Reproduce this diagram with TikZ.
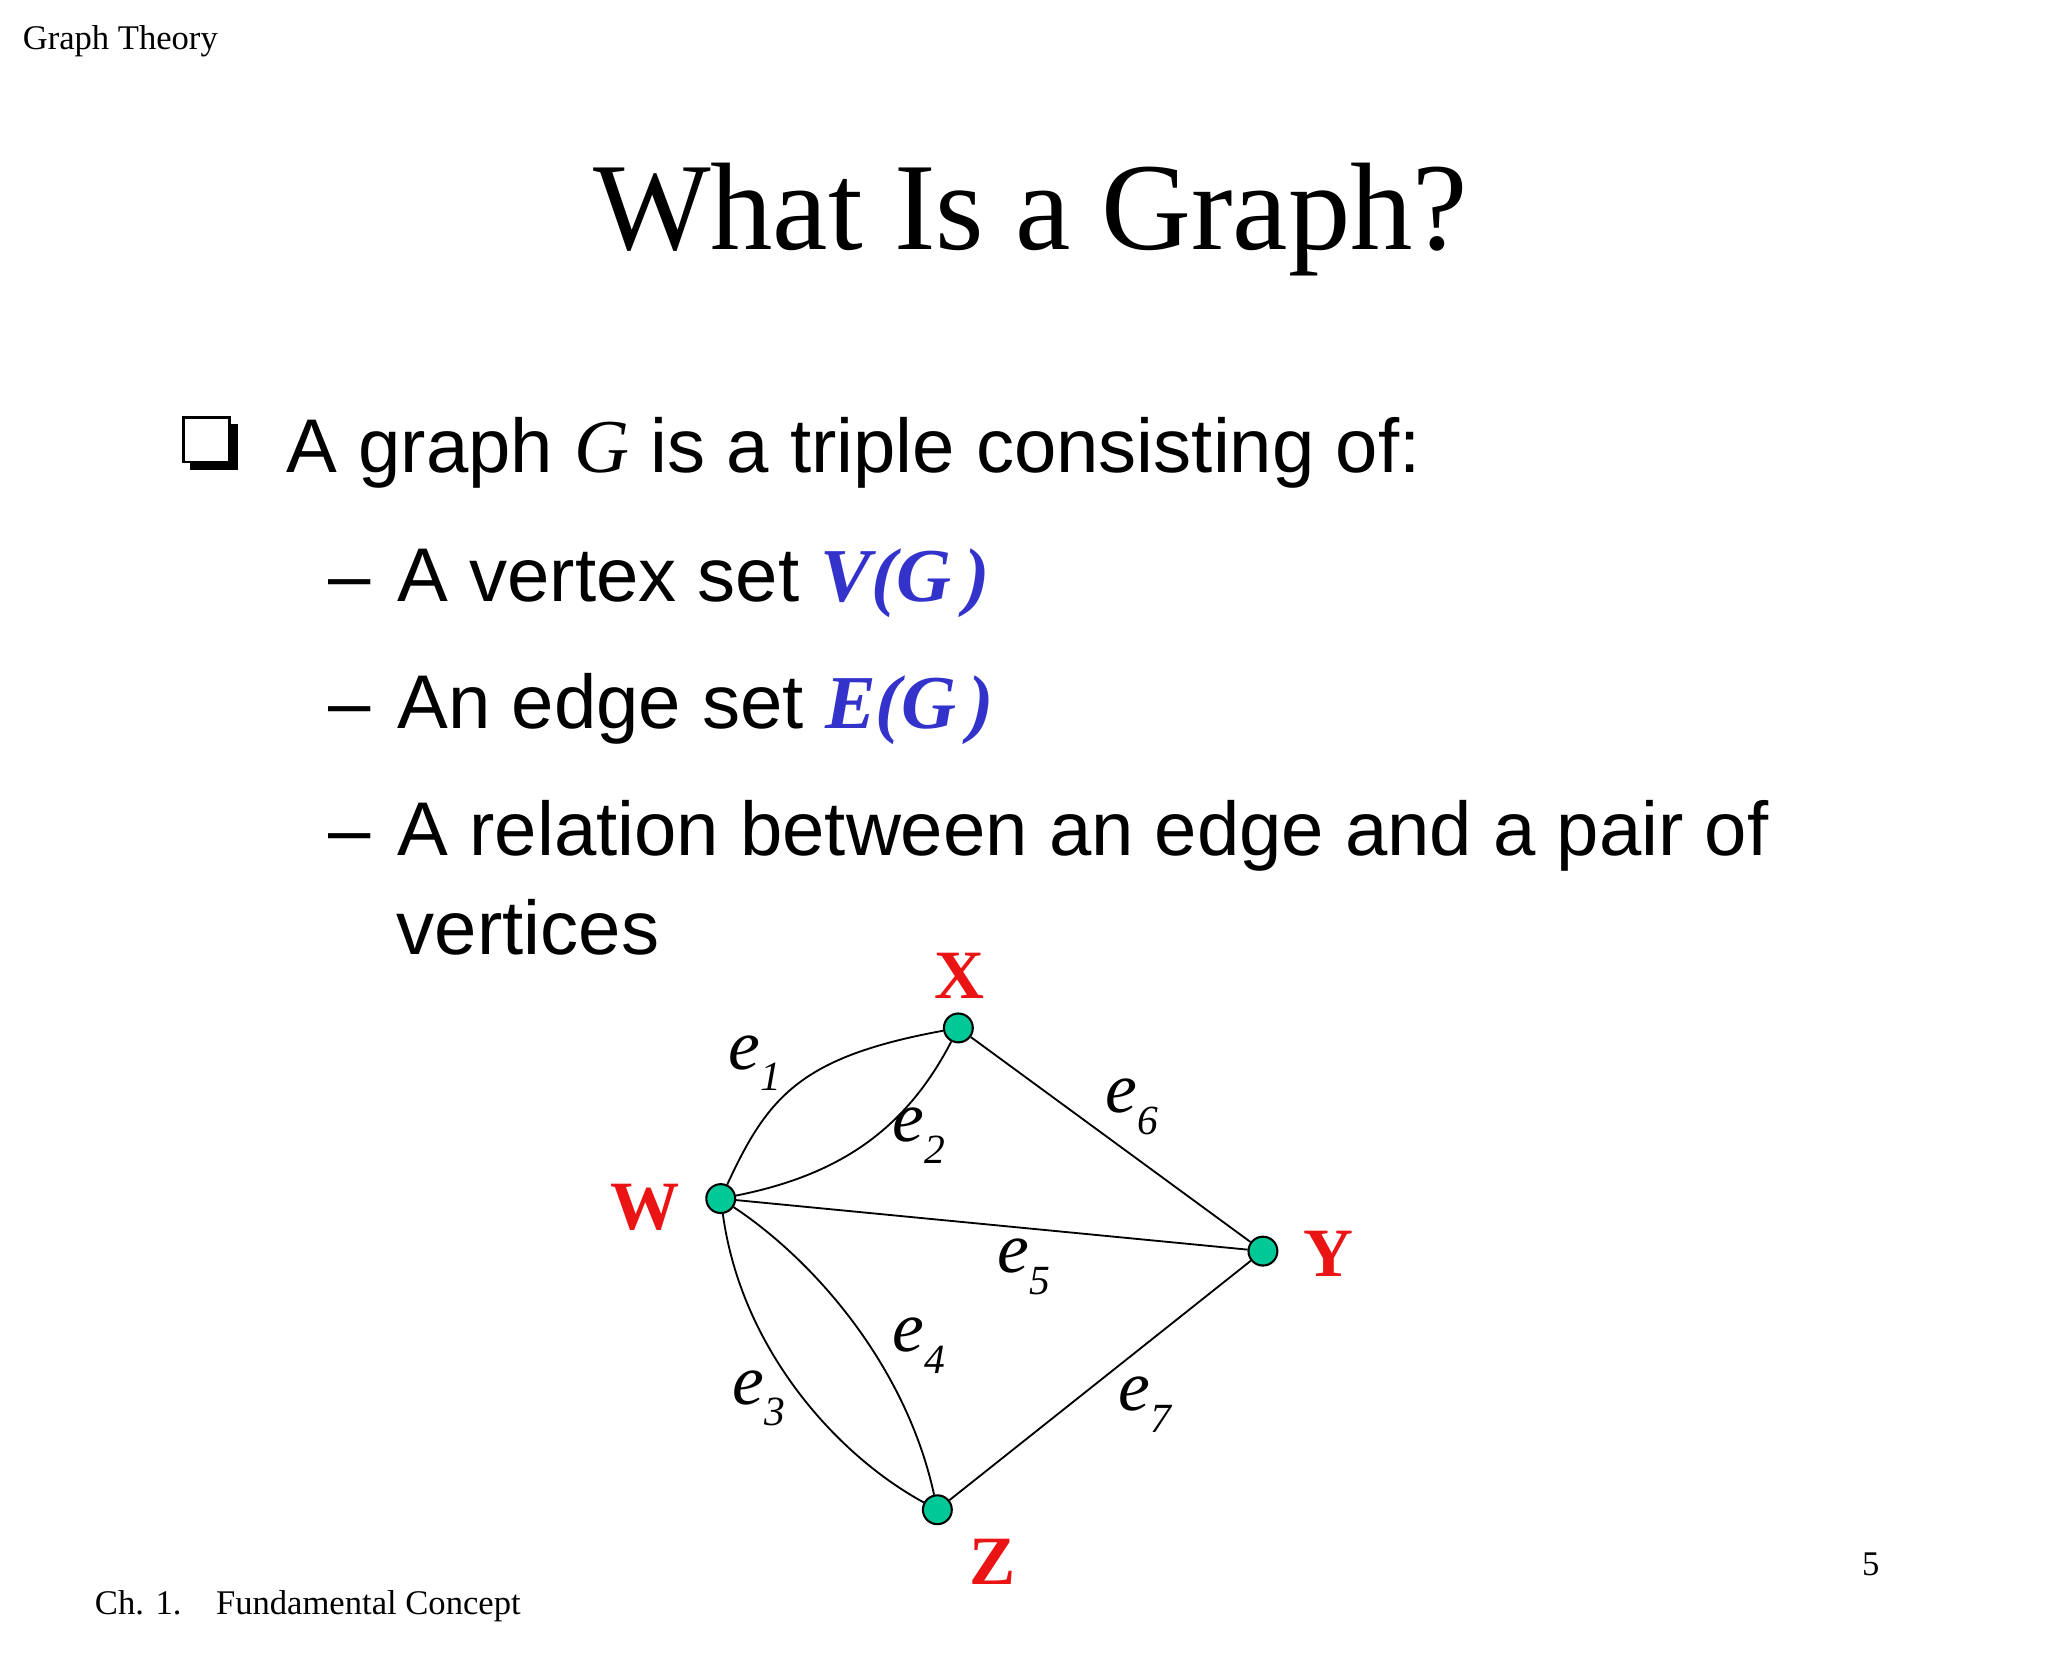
\documentclass[tikz,border=0pt]{standalone}
\usepackage{fontspec}
\setmainfont{Liberation Serif}
\newfontfamily\sansf{Liberation Sans}
\definecolor{vgreen}{RGB}{0,200,150}
\definecolor{sblue}{RGB}{51,51,204}
\definecolor{vred}{RGB}{235,20,20}
\begin{document}
\begin{tikzpicture}[x=0.02cm,y=-0.02cm,
  vtx/.style={circle,draw=black,fill=vgreen,inner sep=0pt,minimum size=22*0.02cm,line width=0.9pt},
  vlab/.style={text=vred,font=\fontsize{30}{30}\selectfont\bfseries},
  elab/.style={font=\fontsize{31}{31}\selectfont\itshape,inner sep=0pt},
  edge/.style={line width=0.8pt},
  bt/.style={anchor=base west,inner sep=0pt,font=\sansf\fontsize{33}{33}\selectfont}]
\useasboundingbox (0,0) rectangle (1560,1270);
\node[anchor=base west,inner sep=0pt,font=\fontsize{15}{15}\selectfont] (hdr) at (17,38) {Graph Theory};
\node[anchor=base west,inner sep=0pt,font=\fontsize{15}{15}\selectfont] (ftr) at (72,1230) {Ch. 1.\hspace{1em}Fundamental Concept};
\node[anchor=base west,inner sep=0pt,font=\fontsize{15}{15}\selectfont] (pg) at (1418,1200) {5};
\node[anchor=base,inner sep=0pt,font=\fontsize{54}{54}\selectfont] (title) at (785,190) {What Is a Graph?};
% checkbox bullet
\fill (145,323) rectangle (181,358);
\filldraw[fill=white,draw=black,line width=1.2pt] (140,318) rectangle (175,352);
\node[bt] (l1) at (218,360) {A graph {\rmfamily\itshape G} is a triple consisting of:};
\node[bt] (l2) at (250,458) {–\hspace{0.35em}A vertex set {\rmfamily\bfseries\itshape\color{sblue}V(G\,)}};
\node[bt] (l3) at (250,555) {–\hspace{0.35em}An edge set {\rmfamily\bfseries\itshape\color{sblue}E(G\,)}};
\node[bt] (l4) at (250,652) {–\hspace{0.35em}A relation between an edge and a pair of};
\node[bt] (l5) at (302,727) {vertices};
% graph
\node[vtx] (W) at (549,913) {};
\node[vtx] (X) at (730,783) {};
\node[vtx] (Y) at (962,953) {};
\node[vtx] (Z) at (714,1150) {};
\node[vlab] (lW) at (491,920) {W};
\node[vlab] (lX) at (731,743) {X};
\node[vlab] (lY) at (1012,955) {Y};
\node[vlab] (lZ) at (756,1190) {Z};
\draw[edge] (W) .. controls (585,835) and (610,805) .. (X);
\draw[edge] (W) .. controls (640,895) and (690,860) .. (X);
\draw[edge] (W) .. controls (565,1030) and (640,1110) .. (Z);
\draw[edge] (W) .. controls (620,960) and (690,1040) .. (Z);
\draw[edge] (W) -- (Y);
\draw[edge] (X) -- (Y);
\draw[edge] (Z) -- (Y);
\newcommand\elabel[1]{e\raisebox{-0.3em}{\fontsize{18}{18}\selectfont #1}}
\node[elab] (e1) at (575,810) {\elabel{1}};
\node[elab] (e2) at (700,865) {\elabel{2}};
\node[elab] (e3) at (578,1065) {\elabel{3}};
\node[elab] (e4) at (700,1025) {\elabel{4}};
\node[elab] (e5) at (780,965) {\elabel{5}};
\node[elab] (e6) at (862,843) {\elabel{6}};
\node[elab] (e7) at (872,1070) {\elabel{7}};
\end{tikzpicture}
\end{document}
